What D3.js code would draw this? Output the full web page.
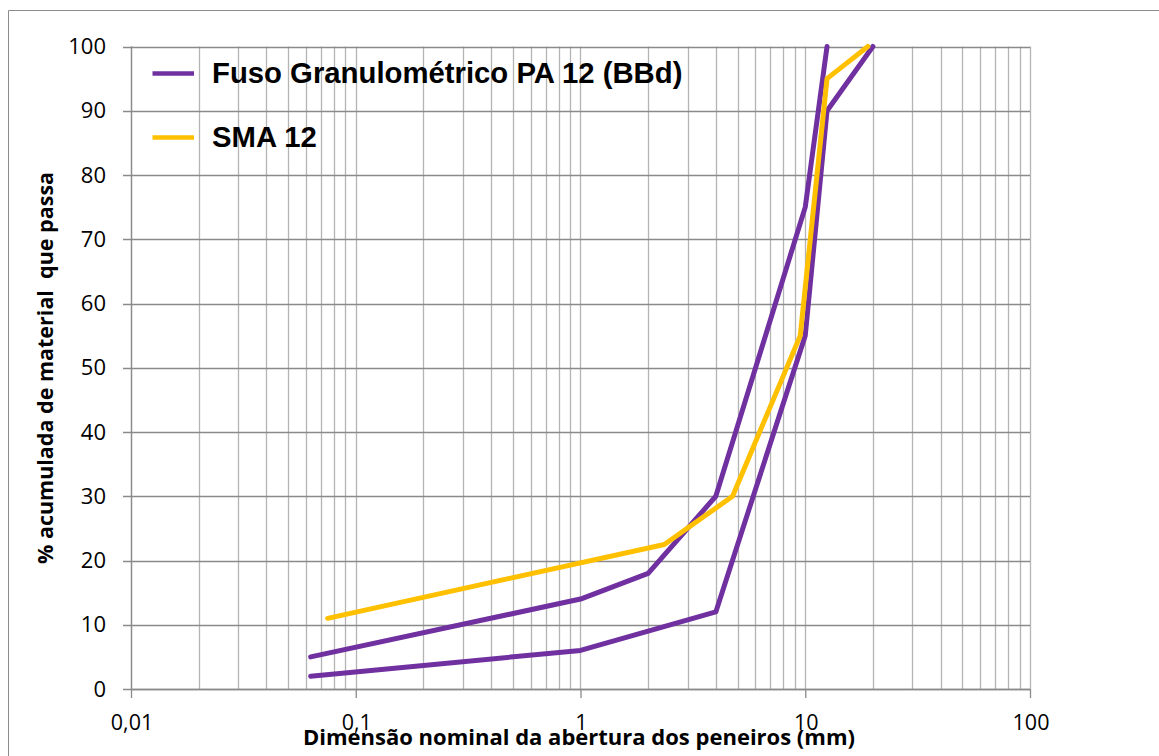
<!DOCTYPE html>
<html>
<head>
<meta charset="utf-8">
<script src="https://cdn.jsdelivr.net/npm/d3@7"></script>
<style>
  html, body { margin: 0; padding: 0; background: #fff; }
  svg { display: block; }
</style>
</head>
<body>
<svg id="chart" width="1159" height="756"></svg>
<script>
// ---- Data ----
const seriesNames = ["Fuso Granulométrico PA 12 (BBd)", "SMA 12"];
// Fuso (envelope) upper limit
const fusoUpperX = [0.063, 1, 2, 4, 10, 12.5];
const fusoUpperY = [5, 14, 18, 30, 75, 100];
// Fuso (envelope) lower limit
const fusoLowerX = [0.063, 1, 4, 10, 12.5, 20];
const fusoLowerY = [2, 6, 12, 55, 90, 100];
// SMA 12 curve
const smaX = [0.075, 2.36, 4.75, 9.5, 12.5, 19];
const smaY = [11, 22.5, 30, 55, 95, 100];
// Axis ticks
const xTickValues = [0.01, 0.1, 1, 10, 100];
const xTickLabels = ["0,01", "0,1", "1", "10", "100"];
const yTickValues = [0, 10, 20, 30, 40, 50, 60, 70, 80, 90, 100];

// ---- Layout ----
const svg = d3.select("#chart");
const pL = 131, pR = 1030, pT = 46.5, pB = 689;
const x = d3.scaleLog().domain([0.01, 100]).range([pL, pR]);
const y = d3.scaleLinear().domain([0, 100]).range([pB, pT]);

const purple = "#7030A0", yellow = "#FFC000";

// outer chart border
svg.append("path")
  .attr("d", `M8.5,760 V10.5 H1165`)
  .attr("fill", "none").attr("stroke", "#8c8c8c").attr("stroke-width", 1);

// vertical grid (minor + major)
const vGrid = [];
for (let e = -2; e < 2; e++) {
  for (let m = 1; m < 10; m++) vGrid.push(m * Math.pow(10, e));
}
vGrid.push(100);
svg.append("g").selectAll("line").data(vGrid).join("line")
  .attr("x1", d => Math.round(x(d)) + 0.5).attr("x2", d => Math.round(x(d)) + 0.5)
  .attr("y1", pT).attr("y2", pB)
  .attr("stroke", "#b4b4b4").attr("stroke-width", 1.3);

// horizontal grid
svg.append("g").selectAll("line").data(yTickValues).join("line")
  .attr("x1", pL - 8).attr("x2", pR)
  .attr("y1", d => Math.round(y(d)) + 0.5).attr("y2", d => Math.round(y(d)) + 0.5)
  .attr("stroke", "#8a8a8a").attr("stroke-width", 1.3);

// axes lines
svg.append("line").attr("x1", pL + 0.5).attr("x2", pL + 0.5).attr("y1", pT).attr("y2", pB)
  .attr("stroke", "#8a8a8a").attr("stroke-width", 1.3);
svg.append("line").attr("x1", pL).attr("x2", pR).attr("y1", Math.round(pB) + 0.5).attr("y2", Math.round(pB) + 0.5)
  .attr("stroke", "#8a8a8a").attr("stroke-width", 1.3);

// x axis (major ticks extend downward)
const xAxis = d3.axisBottom(x).tickValues(xTickValues)
  .tickFormat((d, i) => xTickLabels[i]).tickSize(9).tickPadding(0);
const gx = svg.append("g").attr("transform", `translate(0.5,${pB})`).call(xAxis);
gx.select(".domain").remove();
gx.selectAll(".tick line").attr("stroke", "#8a8a8a").attr("stroke-width", 1.3)
  .attr("transform", "translate(-0.5,0)");
gx.selectAll(".tick text")
  .attr("y", 41).attr("dy", null)
  .attr("font-family", "'Open Sans', sans-serif").attr("font-size", 21.5).attr("fill", "#000");

// y axis
const yAxis = d3.axisLeft(y).tickValues(yTickValues).tickSize(0).tickPadding(25);
const gy = svg.append("g").attr("transform", `translate(${pL},0)`).call(yAxis);
gy.select(".domain").remove();
gy.selectAll(".tick text").attr("font-family", "'Open Sans', sans-serif").attr("font-size", 22).attr("fill", "#000");

// lines
const line = d3.line().x(d => x(d[0])).y(d => y(d[1]));
const lineData = [
  { pts: d3.zip(fusoUpperX, fusoUpperY), color: purple },
  { pts: d3.zip(fusoLowerX, fusoLowerY), color: purple },
  { pts: d3.zip(smaX, smaY), color: yellow }
];
svg.append("g").selectAll("path").data(lineData).join("path")
  .attr("d", d => line(d.pts))
  .attr("fill", "none").attr("stroke", d => d.color)
  .attr("stroke-width", 5).attr("stroke-linejoin", "round").attr("stroke-linecap", "round");

// legend
const legendItems = [
  { name: seriesNames[0], color: purple, y: 73.5 },
  { name: seriesNames[1], color: yellow, y: 137.5 }
];
const lg = svg.append("g");
lg.selectAll("line").data(legendItems).join("line")
  .attr("x1", 152.5).attr("x2", 194).attr("y1", d => d.y).attr("y2", d => d.y)
  .attr("stroke", d => d.color).attr("stroke-width", 4.5);
lg.selectAll("text").data(legendItems).join("text")
  .attr("x", 212).attr("y", d => d.y + 9)
  .attr("font-family", "'Liberation Sans', Arial, sans-serif").attr("font-weight", "bold")
  .attr("font-size", 29.3).attr("fill", "#000")
  .text(d => d.name);

// axis titles
svg.append("text")
  .attr("x", 579).attr("y", 745)
  .attr("text-anchor", "middle")
  .attr("font-family", "'Open Sans', sans-serif").attr("font-weight", "bold")
  .attr("font-size", 22).attr("fill", "#000")
  .text("Dimensão nominal da abertura dos peneiros (mm)");

svg.append("text")
  .attr("transform", "translate(53,368) rotate(-90)")
  .attr("text-anchor", "middle")
  .attr("font-family", "'Open Sans', sans-serif").attr("font-weight", "bold")
  .attr("font-size", 21.5).attr("fill", "#000")
  .attr("xml:space", "preserve")
  .style("white-space", "pre")
  .text("% acumulada de material  que passa");
</script>
</body>
</html>
